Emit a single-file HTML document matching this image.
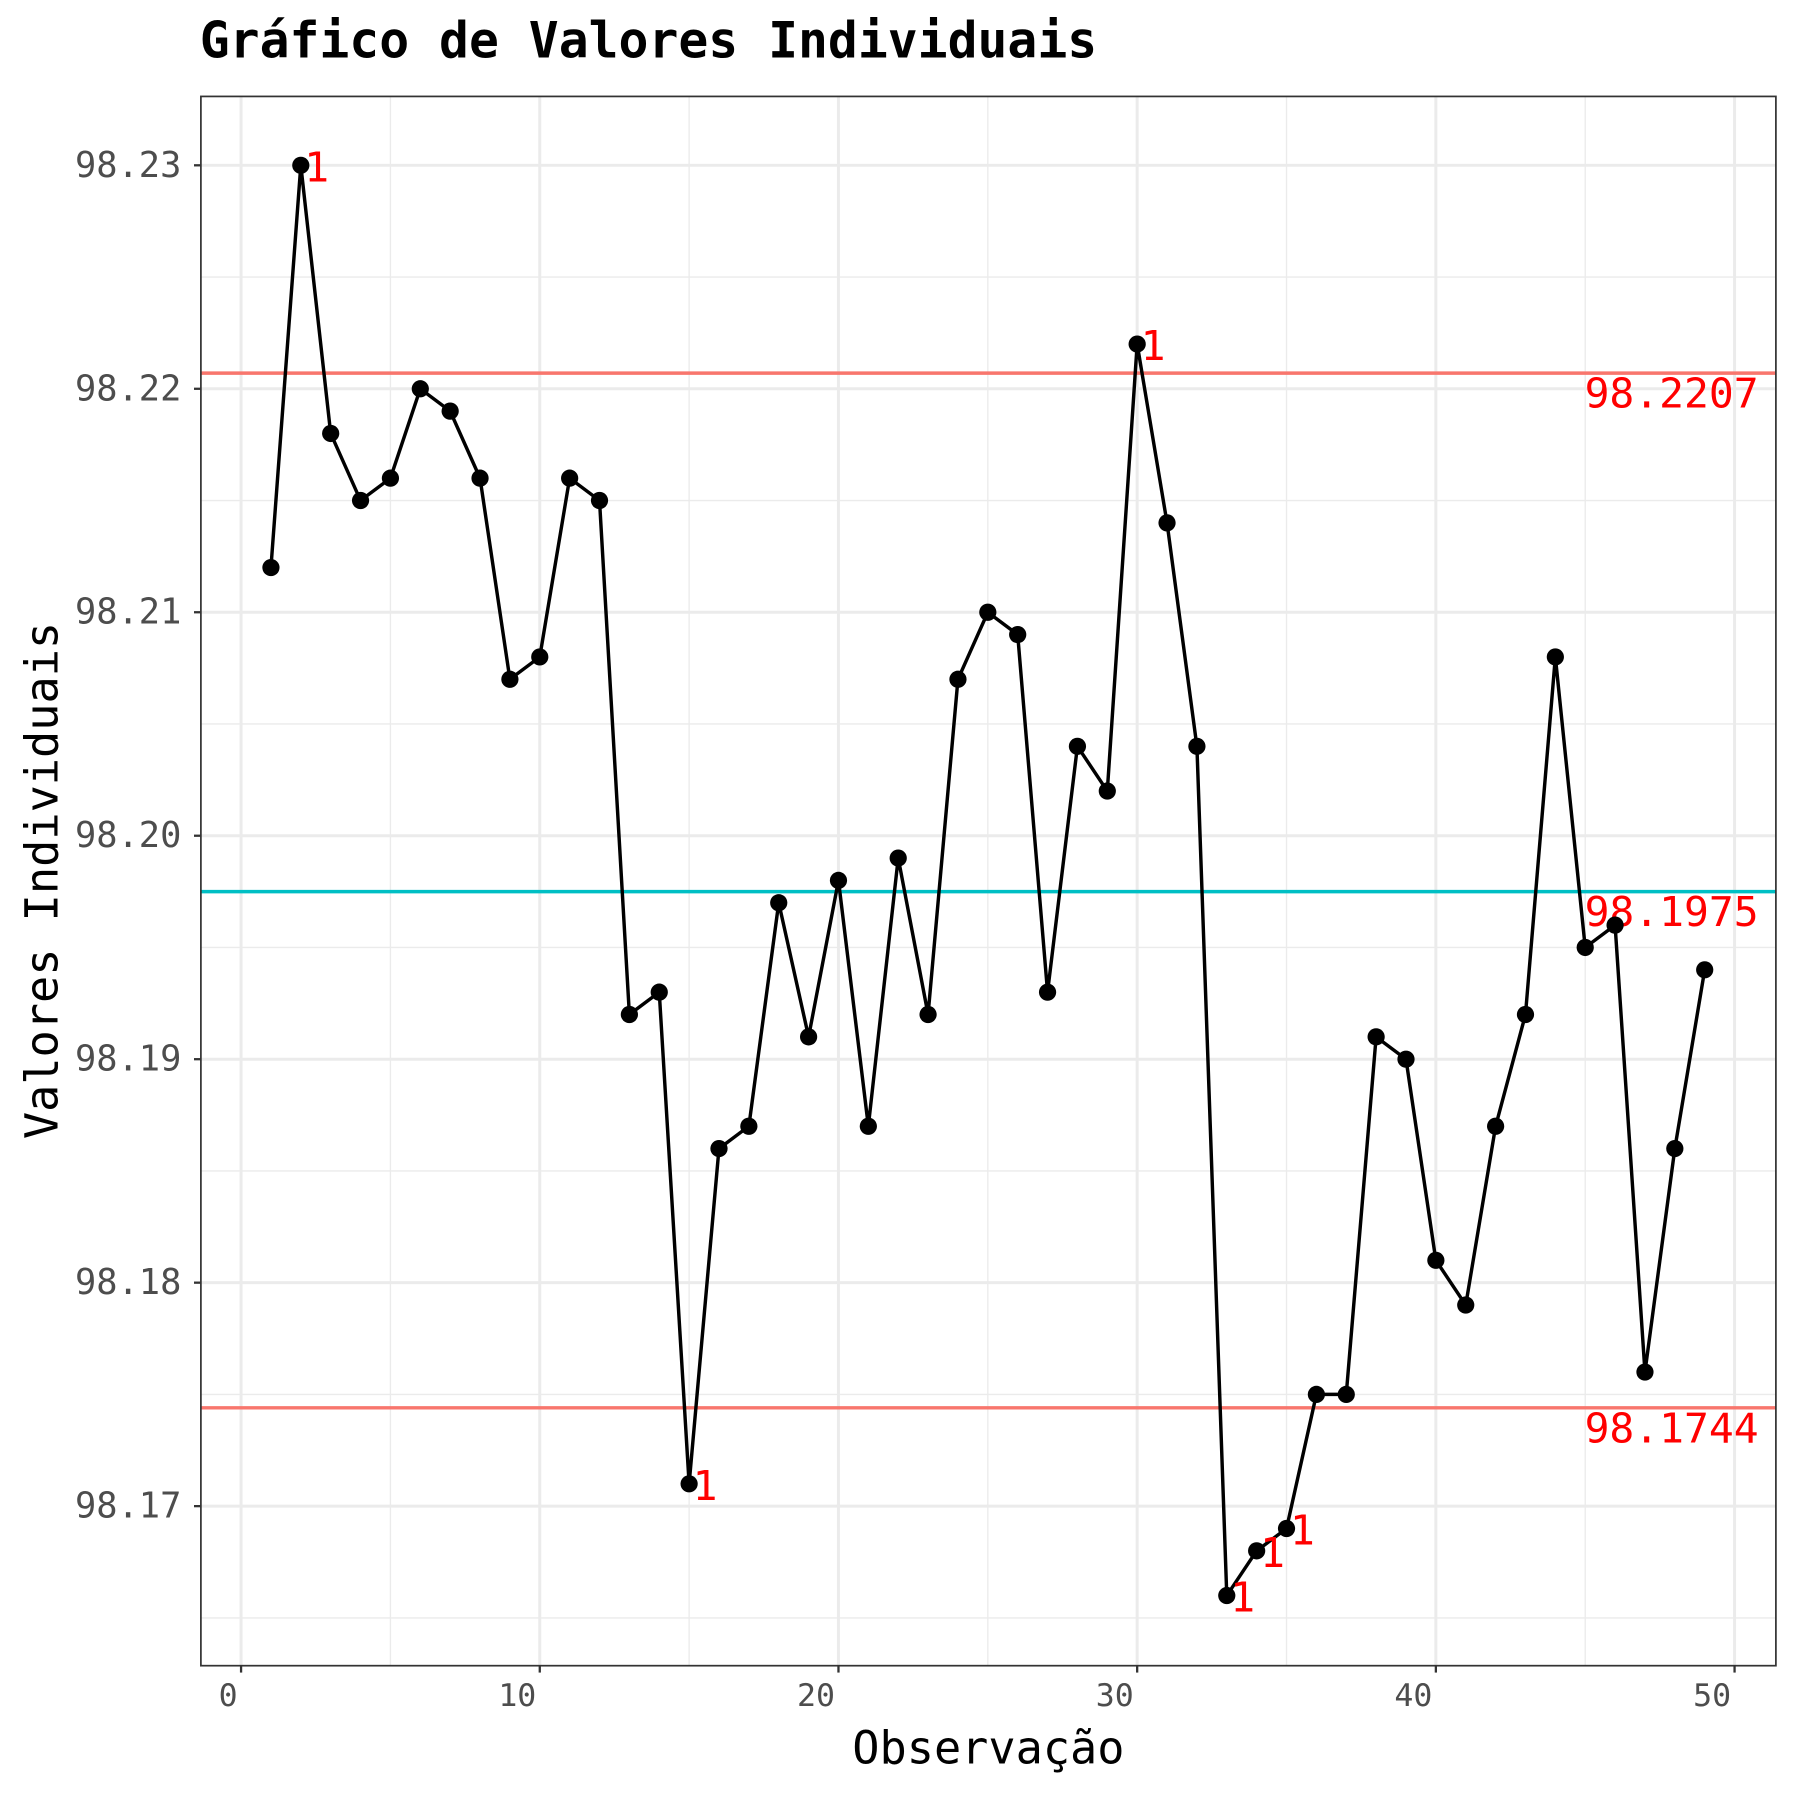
<!DOCTYPE html>
<html><head><meta charset="utf-8"><style>html,body{margin:0;padding:0;background:#fff}svg{display:block}</style></head>
<body>
<svg id="s" width="1800" height="1800" viewBox="0 0 1568 1568" xmlns="http://www.w3.org/2000/svg" font-family="DejaVu Sans Mono, Liberation Mono, monospace">
<rect width="1568" height="1568" fill="#fff"/>
<text x="174" y="50" font-size="43.3" font-weight="bold" fill="#000">Gráfico de Valores Individuais</text>
<g id="grid"></g>
<g id="data"></g>
<rect x="175" y="84" width="1372" height="1367" fill="none" stroke="#333" stroke-width="1.5"/>
<text x="861" y="1536" font-size="39.4" text-anchor="middle" fill="#000">Observação</text>
<text transform="translate(50,767) rotate(-90)" font-size="39.4" text-anchor="middle" fill="#000">Valores Individuais</text>
</svg>
<script>
var ns="http://www.w3.org/2000/svg";
function X(i){return 210+26.02*i;}
function Y(v){return 144+(98.23-v)*19467;}
function el(p,t,a,txt){var e=document.createElementNS(ns,t);for(var k in a)e.setAttribute(k,a[k]);if(txt!==undefined)e.textContent=txt;p.appendChild(e);return e;}
var g=document.getElementById('grid'),d=document.getElementById('data'),s=document.getElementById('s');
var L=175,R=1547,T=84,B=1451;
for(var v=98.165;v<98.2301;v+=0.01){el(g,'line',{x1:L,x2:R,y1:Y(v),y2:Y(v),stroke:'#ebebeb','stroke-width':1.2});}
for(var x=5;x<=45;x+=10){el(g,'line',{x1:X(x),x2:X(x),y1:T,y2:B,stroke:'#ebebeb','stroke-width':1.2});}
for(var v=98.17;v<98.2301;v+=0.01){var y=Y(v);el(g,'line',{x1:L,x2:R,y1:y,y2:y,stroke:'#ebebeb','stroke-width':2.6});
 el(s,'line',{x1:L-6,x2:L,y1:y,y2:y,stroke:'#333','stroke-width':2});
 el(s,'text',{x:158,y:y+10,'font-size':30.8,'text-anchor':'end',fill:'#4d4d4d'},v.toFixed(2));}
for(var x=0;x<=50;x+=10){el(g,'line',{x1:X(x),x2:X(x),y1:T,y2:B,stroke:'#ebebeb','stroke-width':2.6});
 el(s,'line',{x1:X(x),x2:X(x),y1:B,y2:B+6,stroke:'#333','stroke-width':2});
 el(s,'text',{x:X(x)-3,y:1486,'font-size':27.5,'text-anchor':'end',fill:'#4d4d4d'},String(x));}
var vals=[98.212,98.230,98.218,98.215,98.216,98.220,98.219,98.216,98.207,98.208,98.216,98.215,98.192,98.193,98.171,98.186,98.187,98.197,98.191,98.198,98.187,98.199,98.192,98.207,98.210,98.209,98.193,98.204,98.202,98.222,98.214,98.204,98.166,98.168,98.169,98.175,98.175,98.191,98.190,98.181,98.179,98.187,98.192,98.208,98.195,98.196,98.176,98.186,98.194];
[[98.2207,'#f8766d'],[98.1975,'#00bfc4'],[98.1744,'#f8766d']].forEach(function(a){var y=Y(a[0]);
 el(d,'line',{x1:L,x2:R,y1:y,y2:y,stroke:a[1],'stroke-width':3});
 el(d,'text',{x:1532,y:y+30,'font-size':36,'text-anchor':'end',fill:'red'},a[0].toFixed(4));});
var pts=vals.map(function(v,i){return X(i+1)+','+Y(v);}).join(' ');
el(d,'polyline',{points:pts,fill:'none',stroke:'#000','stroke-width':3});
vals.forEach(function(v,i){el(d,'circle',{cx:X(i+1),cy:Y(v),r:7.5,fill:'#000'});});
[2,15,30,33,34,35].forEach(function(i){el(d,'text',{x:X(i)+3,y:Y(vals[i-1])+14,'font-size':36,fill:'red'},'1');});
</script>
</body></html>
